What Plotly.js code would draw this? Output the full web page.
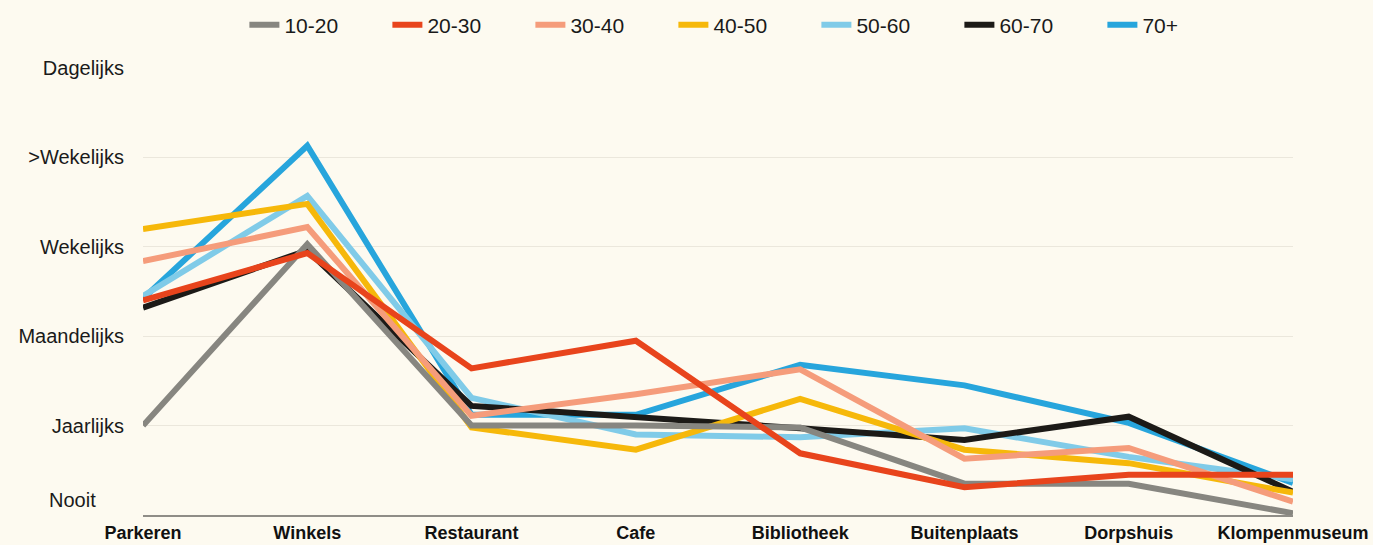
<!DOCTYPE html>
<html>
<head>
<meta charset="utf-8">
<script src="https://cdn.plot.ly/plotly-3.0.1.min.js"></script>
<style>
html,body{margin:0;padding:0;background:#fdfaf0;}
#chart{width:1373px;height:545px;}
</style>
</head>
<body>
<div id="chart"></div>
<script>
// Categories (locations) and frequency scale
const categories = ["Parkeren", "Winkels", "Restaurant", "Cafe", "Bibliotheek", "Buitenplaats", "Dorpshuis", "Klompenmuseum"];
const freqVals = [1, 2, 3, 4, 5];
const freqLabels = ["Jaarlijks", "Maandelijks", "Wekelijks", ">Wekelijks", "Dagelijks"];
const zeroLabel = "Nooit";

// Series values (0 = Nooit ... 5 = Dagelijks)
const age10_20 = [1.00, 3.03, 1.00, 1.00, 0.98, 0.35, 0.35, 0.02];
const age20_30 = [2.40, 2.93, 1.64, 1.95, 0.69, 0.31, 0.45, 0.45];
const age30_40 = [2.84, 3.22, 1.11, 1.35, 1.63, 0.63, 0.75, 0.15];
const age40_50 = [3.20, 3.48, 0.98, 0.73, 1.30, 0.73, 0.58, 0.25];
const age50_60 = [2.45, 3.57, 1.31, 0.90, 0.87, 0.97, 0.65, 0.40];
const age60_70 = [2.32, 2.96, 1.22, 1.10, 0.97, 0.84, 1.10, 0.26];
const age70plus = [2.42, 4.13, 1.12, 1.12, 1.68, 1.45, 1.03, 0.36];

const seriesNames = ["10-20", "20-30", "30-40", "40-50", "50-60", "60-70", "70+"];
const seriesData = [age10_20, age20_30, age30_40, age40_50, age50_60, age60_70, age70plus];
const seriesColors = ["#878680", "#e8441c", "#f59c7b", "#f6b80a", "#80cbe8", "#1c1a17", "#27a5dc"];
// drawing order bottom -> top
const drawOrder = [6, 4, 5, 3, 2, 0, 1];

const traces = drawOrder.map(i => ({
  type: "scatter",
  mode: "lines",
  name: seriesNames[i],
  x: categories,
  y: seriesData[i],
  legendrank: i + 1,
  line: {color: seriesColors[i], width: 6},
  hoverinfo: "x+y+name"
}));

const layout = {
  width: 1373,
  height: 545,
  paper_bgcolor: "#fdfaf0",
  plot_bgcolor: "#fdfaf0",
  margin: {l: 143, r: 80, t: 68, b: 30},
  font: {family: "Liberation Sans, Arial, sans-serif", color: "#1a1a1a"},
  showlegend: true,
  legend: {
    orientation: "h",
    xref: "container",
    yref: "container",
    x: 0.178,
    xanchor: "left",
    y: 1 - 25 / 545,
    yanchor: "middle",
    entrywidth: 98,
    entrywidthmode: "pixels",
    font: {size: 21, color: "#1a1a1a"},
    bgcolor: "rgba(0,0,0,0)"
  },
  xaxis: {
    type: "category",
    range: [0, 7],
    showgrid: false,
    showline: true,
    linecolor: "#8f8d87",
    linewidth: 2,
    ticks: "",
    zeroline: false,
    tickfont: {size: 18, color: "#111", weight: "bold"},
    fixedrange: true
  },
  yaxis: {
    range: [0, 5],
    tickvals: freqVals,
    ticktext: freqLabels,
    showgrid: true,
    gridcolor: "#ebe7dc",
    gridwidth: 1,
    zeroline: false,
    showline: false,
    ticks: "",
    ticklabelstandoff: 18,
    tickfont: {size: 20, color: "#1a1a1a"},
    fixedrange: true
  },
  annotations: [{
    xref: "paper",
    yref: "y",
    x: 0,
    y: 0,
    xanchor: "right",
    yanchor: "middle",
    xshift: -45,
    yshift: 15,
    text: zeroLabel,
    showarrow: false,
    font: {size: 20, color: "#1a1a1a"}
  }]
};

Plotly.newPlot("chart", traces, layout, {displayModeBar: false, staticPlot: true});
</script>
</body>
</html>
